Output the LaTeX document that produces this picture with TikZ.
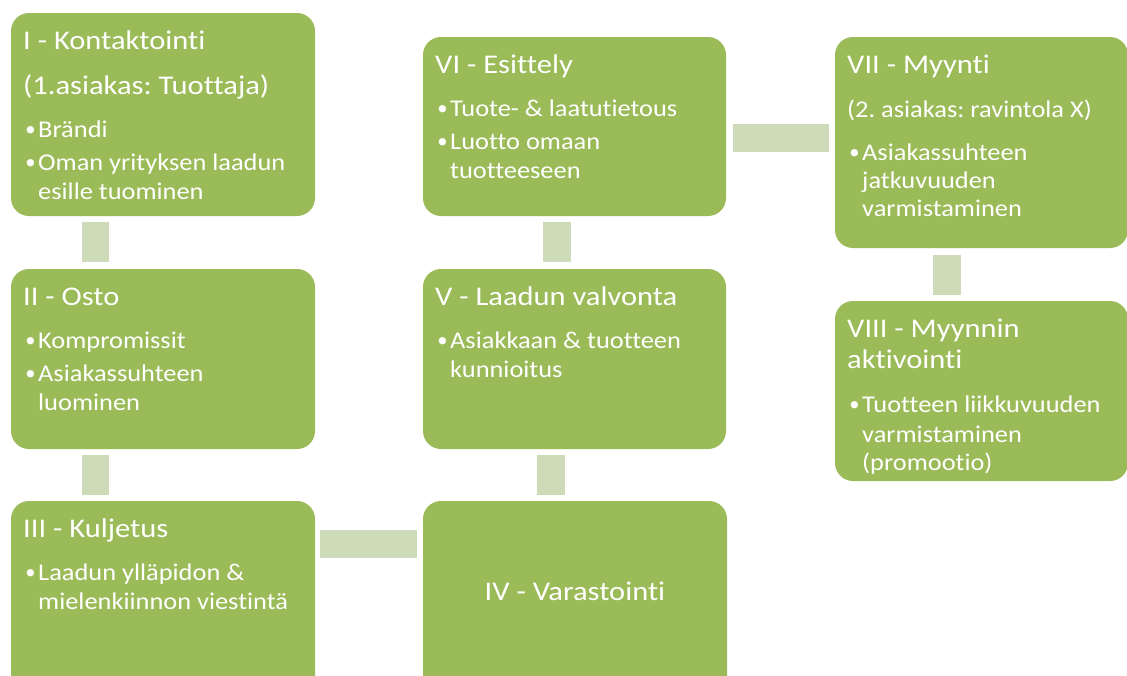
\documentclass[tikz,border=0pt]{standalone}
\usepackage{fontspec}
\setmainfont{Carlito}[Ligatures=NoCommon, FakeStretch=1.10]
\newfontfamily\headfont{Carlito}[Ligatures=NoCommon, FakeStretch=1.13]
\newfontfamily\dotfont{DejaVu Sans}
\frenchspacing
\usetikzlibrary{calc}
\definecolor{boxgreen}{HTML}{9BBB59}
\definecolor{bargreen}{HTML}{CDDBB8}
\begin{document}
\begin{tikzpicture}[x=1pt,y=-1pt,
  stage/.style={fill=boxgreen, draw=none, rounded corners=18pt, inner sep=0pt,
    outer sep=0pt, anchor=north west},
  bar/.style={fill=bargreen, draw=none},
  ttl/.style={text=white, font=\headfont\fontsize{27}{30}\selectfont, anchor=base west, inner sep=0pt},
  itm/.style={text=white, font=\fontsize{24}{28}\selectfont, anchor=base west, inner sep=0pt},
  dot/.style={text=white, font=\dotfont\fontsize{25}{28}\selectfont, anchor=base west,
    inner sep=0pt, yshift=-2.5pt}]
\useasboundingbox (0,0) rectangle (1127,675);
\clip (0,0) rectangle (1127,675);

% stage boxes
\node[stage, minimum width=304pt, minimum height=203pt] (I) at (11,13) {};
\node[stage, minimum width=304pt, minimum height=180pt] (II) at (11,269) {};
\node[stage, minimum width=304pt, minimum height=200pt] (III) at (11,501) {};
\node[stage, minimum width=304pt, minimum height=200pt] (IV) at (423,501) {};
\node[stage, minimum width=303pt, minimum height=180pt] (V) at (423,269) {};
\node[stage, minimum width=303pt, minimum height=179pt] (VI) at (423,37) {};
\node[stage, minimum width=293pt, minimum height=211pt] (VII) at (835,37) {};
\node[stage, minimum width=293pt, minimum height=180pt] (VIII) at (835,301) {};

% connecting bars
\fill[bar] ($(I.south west)+(71,6)$) rectangle ($(II.north west)+(98,-7)$);
\fill[bar] ($(II.south west)+(71,6)$) rectangle ($(III.north west)+(98,-6)$);
\fill[bar] ($(III.north east)+(5,29)$) rectangle ($(IV.north west)+(-6,57)$);
\fill[bar] ($(V.south west)+(114,6)$) rectangle ($(IV.north west)+(142,-6)$);
\fill[bar] ($(VI.south west)+(120,6)$) rectangle ($(V.north west)+(148,-7)$);
\fill[bar] ($(VI.north east)+(7,87)$) rectangle ($(VII.north west)+(-6,115)$);
\fill[bar] ($(VII.south west)+(98,7)$) rectangle ($(VIII.north west)+(126,-6)$);

% I
\node[ttl] (I-a) at ($(I.north west)+(12,36)$) {I - Kontaktointi};
\node[ttl] (I-b) at ($(I.north west)+(12,81)$) {(1.asiakas: Tuottaja)};
\node[dot] (I-c) at ($(I.north west)+(12,124)$) {•};
\node[itm] (I-d) at ($(I.north west)+(27,124)$) {Brändi};
\node[dot] (I-e) at ($(I.north west)+(12,157)$) {•};
\node[itm] (I-f) at ($(I.north west)+(27,157)$) {Oman yrityksen laadun};
\node[itm] (I-g) at ($(I.north west)+(27,186)$) {esille tuominen};

% II
\node[ttl] (II-a) at ($(II.north west)+(12,36)$) {II - Osto};
\node[dot] (II-b) at ($(II.north west)+(12,79)$) {•};
\node[itm] (II-c) at ($(II.north west)+(27,79)$) {Kompromissit};
\node[dot] (II-d) at ($(II.north west)+(12,112)$) {•};
\node[itm] (II-e) at ($(II.north west)+(27,112)$) {Asiakassuhteen};
\node[itm] (II-f) at ($(II.north west)+(27,141)$) {luominen};

% III
\node[ttl] (III-a) at ($(III.north west)+(12,36)$) {III - Kuljetus};
\node[dot] (III-b) at ($(III.north west)+(12,79)$) {•};
\node[itm] (III-c) at ($(III.north west)+(27,79)$) {Laadun ylläpidon \&};
\node[itm] (III-d) at ($(III.north west)+(27,108)$) {mielenkiinnon viestintä};

% IV
\node[ttl, anchor=base] (IV-a) at ($(IV.north west)+(152,99)$) {IV - Varastointi};

% V
\node[ttl] (V-a) at ($(V.north west)+(12,36)$) {V - Laadun valvonta};
\node[dot] (V-b) at ($(V.north west)+(12,79)$) {•};
\node[itm] (V-c) at ($(V.north west)+(27,79)$) {Asiakkaan \& tuotteen};
\node[itm] (V-d) at ($(V.north west)+(27,108)$) {kunnioitus};

% VI
\node[ttl] (VI-a) at ($(VI.north west)+(12,36)$) {VI - Esittely};
\node[dot] (VI-b) at ($(VI.north west)+(12,79)$) {•};
\node[itm] (VI-c) at ($(VI.north west)+(27,79)$) {Tuote- \& laatutietous};
\node[dot] (VI-d) at ($(VI.north west)+(12,112)$) {•};
\node[itm] (VI-e) at ($(VI.north west)+(27,112)$) {Luotto omaan};
\node[itm] (VI-f) at ($(VI.north west)+(27,141)$) {tuotteeseen};

% VII
\node[ttl] (VII-a) at ($(VII.north west)+(12,36)$) {VII - Myynti};
\node[itm] (VII-b) at ($(VII.north west)+(12,80)$) {(2. asiakas: ravintola X)};
\node[dot] (VII-c) at ($(VII.north west)+(12,123)$) {•};
\node[itm] (VII-d) at ($(VII.north west)+(27,123)$) {Asiakassuhteen};
\node[itm] (VII-e) at ($(VII.north west)+(27,151)$) {jatkuvuuden};
\node[itm] (VII-f) at ($(VII.north west)+(27,179)$) {varmistaminen};

% VIII
\node[ttl] (VIII-a) at ($(VIII.north west)+(12,36)$) {VIII - Myynnin};
\node[ttl] (VIII-b) at ($(VIII.north west)+(12,67)$) {aktivointi};
\node[dot] (VIII-c) at ($(VIII.north west)+(12,111)$) {•};
\node[itm] (VIII-d) at ($(VIII.north west)+(27,111)$) {Tuotteen liikkuvuuden};
\node[itm] (VIII-e) at ($(VIII.north west)+(27,141)$) {varmistaminen};
\node[itm] (VIII-f) at ($(VIII.north west)+(27,169)$) {(promootio)};
\end{tikzpicture}
\end{document}
